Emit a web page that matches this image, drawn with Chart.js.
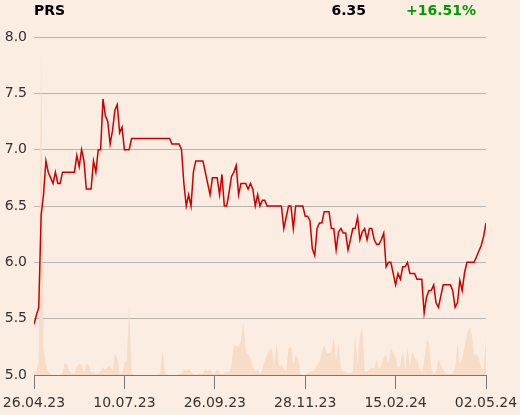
<!DOCTYPE html>
<html>
<head>
<meta charset="utf-8">
<script src="https://cdn.jsdelivr.net/npm/chart.js@4.4.0/dist/chart.umd.min.js"></script>
<style>
  body { margin: 0; background: #fbede1; }
  #wrap { position: relative; width: 520px; height: 415px; }
</style>
</head>
<body>
<div id="wrap"><canvas id="myChart" width="520" height="415"></canvas></div>
<script>
// header
const ticker = "PRS";
const lastPrice = "6.35";
const change = "+16.51%";

// x axis ticks (index of the point, label)
const tickIndex = [0, 38, 76, 114, 152, 190];
const tickLabels = ["26.04.23", "10.07.23", "26.09.23", "28.11.23", "15.02.24", "02.05.24"];

// closing prices
const prices = [
  5.45, 5.53, 5.6, 6.42, 6.6, 6.9, 6.8, 6.75, 6.7, 6.8,
  6.7, 6.7, 6.8, 6.8, 6.8, 6.8, 6.8, 6.8, 6.95, 6.85,
  7.0, 6.9, 6.65, 6.65, 6.65, 6.9, 6.8, 7.0, 7.0, 7.45,
  7.3, 7.25, 7.05, 7.17, 7.35, 7.4, 7.15, 7.2, 7.0, 7.0,
  7.0, 7.1, 7.1, 7.1, 7.1, 7.1, 7.1, 7.1, 7.1, 7.1,
  7.1, 7.1, 7.1, 7.1, 7.1, 7.1, 7.1, 7.1, 7.05, 7.05,
  7.05, 7.05, 7.0, 6.7, 6.5, 6.6, 6.5, 6.8, 6.9, 6.9,
  6.9, 6.9, 6.8, 6.7, 6.6, 6.75, 6.75, 6.75, 6.6, 6.78,
  6.5, 6.5, 6.62, 6.76, 6.8, 6.86, 6.6, 6.7, 6.7, 6.7,
  6.65, 6.7, 6.65, 6.5, 6.6, 6.5, 6.55, 6.55, 6.5, 6.5,
  6.5, 6.5, 6.5, 6.5, 6.5, 6.3, 6.4, 6.5, 6.5, 6.3,
  6.5, 6.5, 6.5, 6.5, 6.41, 6.41, 6.37, 6.12, 6.06, 6.3,
  6.35, 6.35, 6.45, 6.45, 6.45, 6.3, 6.3, 6.11, 6.27, 6.3,
  6.26, 6.26, 6.11, 6.2, 6.3, 6.3, 6.4, 6.2, 6.27, 6.3,
  6.2, 6.3, 6.3, 6.2, 6.16, 6.16, 6.2, 6.26, 5.96, 6.0,
  6.0, 5.9, 5.8, 5.9, 5.85, 5.96, 5.96, 6.0, 5.9, 5.9,
  5.9, 5.85, 5.85, 5.85, 5.55, 5.69, 5.75, 5.75, 5.8, 5.64,
  5.6, 5.7, 5.8, 5.8, 5.8, 5.8, 5.75, 5.6, 5.64, 5.84,
  5.75, 5.91, 6.0, 6.0, 6.0, 6.0, 6.05, 6.1, 6.15, 6.23,
  6.35
];

// traded volume (relative, 100 = top of the plot)
const volumes = [
  1, 1, 4, 97, 8, 3, 1, 0.3, 0, 0,
  0, 0, 0.5, 3.6, 3, 1, 0.5, 0.5, 2.5, 3.3,
  3, 0.5, 3.3, 3, 0.5, 1, 0.3, 0.5, 1, 2.4,
  1.5, 2.4, 2.8, 1, 6.2, 5, 0.5, 0.3, 3.5, 4.4,
  20.7, 0.5, 0, 0, 0, 0, 0, 0, 0, 0,
  0, 0, 0, 0.5, 7.4, 1, 0, 0, 0, 0,
  0, 0.3, 0.5, 1.8, 1, 1.8, 1, 0.3, 0, 0.3,
  0.5, 0.3, 1.8, 1, 1.8, 0.5, 0.3, 1.8, 0.5, 0.3,
  0.5, 1, 0.5, 3, 8.9, 8.6, 8.4, 10, 15.6, 7,
  6, 5, 2.2, 1, 1.6, 0.5, 1.5, 4.4, 6, 7.4,
  7.7, 2.5, 9.9, 2.5, 3, 2, 1, 7.9, 8.4, 3,
  5.9, 5, 0.3, 0, 0, 0.5, 1, 1, 1.5, 3,
  3.9, 6.9, 8.9, 6.4, 6.4, 6.9, 11.3, 4, 9.9, 2,
  1, 1, 0.5, 0.5, 1, 11.8, 3, 11.8, 13.8, 1,
  1, 1.5, 2.2, 2, 4.6, 2, 2.5, 5, 6.1, 3.5,
  8.2, 6.4, 5.3, 2, 3, 7.2, 2, 7.7, 2.5, 7,
  5, 4.5, 2, 0.5, 4, 10, 9.9, 2, 0.3, 1,
  4.6, 3, 1.5, 0.5, 0.3, 0.3, 0.5, 2, 9.4, 3,
  5, 8.4, 12, 14.1, 12, 5.5, 6.5, 5, 2, 1.5,
  10.7
];

const font = "DejaVu Sans";

// header text drawn on the canvas
const headerPlugin = {
  id: "header",
  afterDraw(chart) {
    const ctx = chart.ctx;
    ctx.save();
    ctx.font = "bold 14px '" + font + "'";
    ctx.textBaseline = "alphabetic";
    ctx.fillStyle = "#000";
    ctx.textAlign = "left";
    ctx.fillText(ticker, 34, 15);
    ctx.textAlign = "right";
    ctx.fillText(lastPrice, 366, 15);
    ctx.fillStyle = "#009900";
    ctx.textAlign = "left";
    ctx.fillText(change, 406, 15);
    ctx.restore();
  }
};

const ctx = document.getElementById("myChart").getContext("2d");
const myChart = new Chart(ctx, {
  type: "line",
  data: {
    datasets: [
      {
        label: "price",
        data: prices.map((v, i) => ({ x: i, y: v })),
        borderColor: "#cc0000",
        borderWidth: 1.5,
        pointRadius: 0,
        tension: 0,
        fill: false,
        yAxisID: "y",
        order: 1,
      },
      {
        label: "volume",
        data: volumes.map((v, i) => ({ x: i, y: v })),
        borderWidth: 0,
        borderColor: "rgba(0,0,0,0)",
        backgroundColor: "#f7dcc7",
        pointRadius: 0,
        tension: 0,
        fill: "origin",
        yAxisID: "yVol",
        order: 2,
      },
    ],
  },
  options: {
    responsive: false,
    animation: false,
    layout: { padding: { top: 37, right: 34, left: 0, bottom: 0 } },
    plugins: {
      legend: { display: false },
      tooltip: { enabled: false },
    },
    scales: {
      x: {
        type: "linear",
        min: 0,
        max: prices.length - 1,
        afterBuildTicks: (axis) => {
          axis.ticks = tickIndex.map((v) => ({ value: v }));
        },
        afterFit: (axis) => {
          axis.height = 40;
          axis.paddingLeft = 0;
          axis.paddingRight = 0;
        },
        ticks: {
          autoSkip: false,
          maxRotation: 0,
          padding: 6,
          color: "#333",
          font: { family: font, size: 14 },
          callback: (value) => tickLabels[tickIndex.indexOf(value)],
        },
        grid: {
          drawOnChartArea: false,
          drawTicks: true,
          tickLength: 14,
          color: "#777",
        },
        border: { display: true, color: "#777", width: 1 },
      },
      y: {
        position: "left",
        min: 5,
        max: 8,
        afterFit: (axis) => {
          axis.width = 34;
          axis.paddingTop = 0;
          axis.paddingBottom = 0;
        },
        ticks: {
          stepSize: 0.5,
          padding: 7,
          color: "#333",
          font: { family: font, size: 14 },
          callback: (value) => value.toFixed(1),
        },
        grid: { drawTicks: false, color: "#b5b5b5" },
        border: { display: false },
      },
      yVol: {
        display: false,
        min: 0,
        max: 100,
      },
    },
  },
  plugins: [headerPlugin],
});
</script>
</body>
</html>
